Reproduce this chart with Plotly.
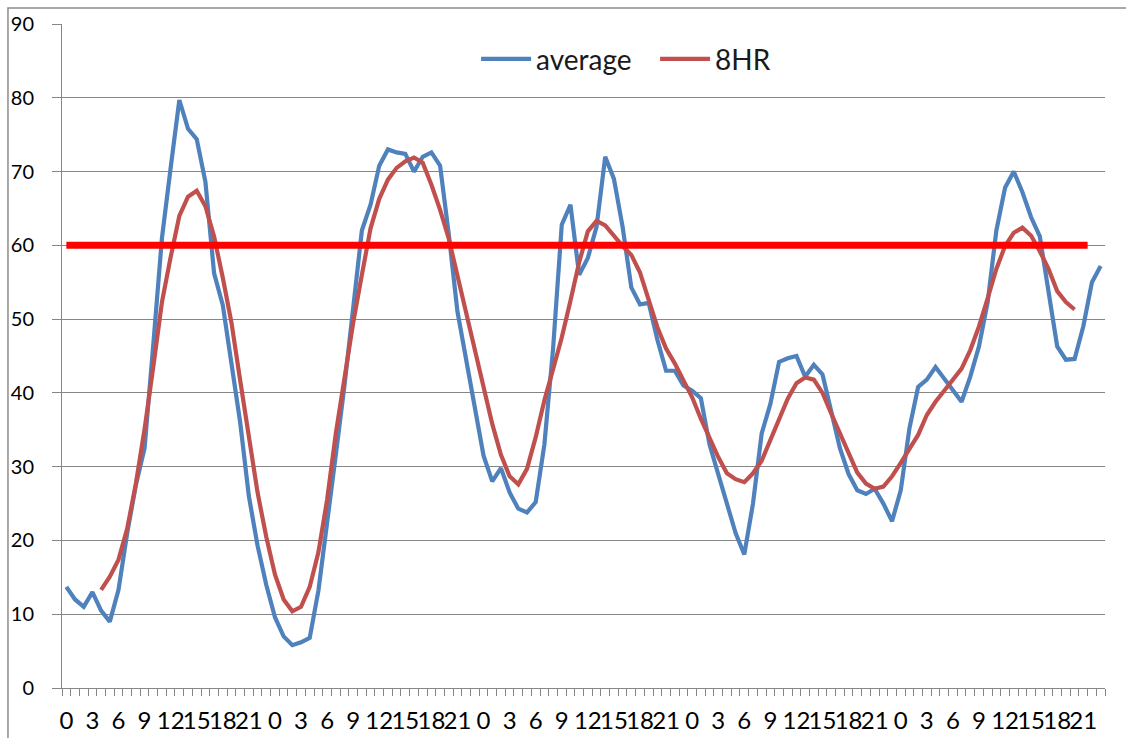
import plotly.graph_objects as go

# Hour-of-day category for each hourly sample (five days)
HOURS = list(range(24)) * 5

# Hourly average concentration
AVERAGE = [
    13.7, 12.0, 11.0, 13.0, 10.5, 9.0, 13.3, 21.0, 27.5, 32.5, 46.5, 61.0,
    70.5, 79.7, 75.8, 74.4, 68.6, 56.2, 51.9, 44.4, 36.0, 26.0, 19.3, 14.0,
    9.6, 7.0, 5.8, 6.2, 6.8, 13.2, 22.0, 31.6, 41.0, 51.0, 62.0, 65.5,
    70.8, 73.0, 72.6, 72.4, 70.0, 72.0, 72.6, 70.8, 61.5, 51.0, 44.5, 37.5,
    31.5, 28.0, 29.8, 26.5, 24.3, 23.8, 25.2, 33.0, 46.0, 62.8, 65.5, 56.0,
    58.3, 62.5, 72.0, 69.0, 62.5, 54.3, 52.0, 52.2, 47.2, 43.0, 43.0, 41.0,
    40.3, 39.3, 33.0, 29.0, 25.0, 21.0, 18.1, 25.0, 34.5, 38.5, 44.2, 44.7,
    45.0, 42.2, 43.8, 42.5, 37.5, 32.5, 29.0, 26.8, 26.3, 27.0, 25.0, 22.6,
    26.8, 35.2, 40.8, 41.8, 43.5, 41.9, 40.5, 38.8, 42.2, 46.3, 52.3, 62.0,
    67.8, 70.0, 67.2, 63.8, 61.2, 53.5, 46.3, 44.5, 44.6, 49.0, 55.0, 57.2,
]

# 8-hour running average (undefined at the start and end of the record)
EIGHT_HR = [
    None, None, None, None, 13.3, 15.1, 17.4, 21.6, 27.7, 35.1, 43.5, 52.3,
    58.4, 64.0, 66.6, 67.4, 65.3, 61.2, 55.6, 49.5, 41.7, 34.5, 26.5, 20.5,
    15.4, 12.0, 10.4, 11.0, 13.7, 18.4, 25.5, 34.5, 42.0, 49.5, 56.0, 62.3,
    66.3, 68.9, 70.5, 71.4, 71.9, 71.2, 68.2, 64.8, 60.9, 56.0, 51.0, 46.0,
    40.8, 35.8, 31.6, 28.7, 27.6, 29.7, 34.0, 39.0, 43.2, 47.5, 52.5, 57.7,
    61.9, 63.3, 62.7, 61.2, 59.9, 58.7, 56.3, 52.6, 48.9, 46.0, 44.0, 41.7,
    39.4, 36.5, 33.8, 31.3, 29.1, 28.3, 27.9, 29.1, 30.8, 33.5, 36.5, 39.2,
    41.3, 42.1, 41.8, 40.0, 37.2, 34.5, 31.9, 29.2, 27.7, 27.0, 27.3, 28.7,
    30.5, 32.4, 34.3, 37.0, 38.8, 40.3, 41.7, 43.3, 45.8, 49.0, 52.8, 56.8,
    59.9, 61.7, 62.4, 61.3, 59.2, 56.8, 53.8, 52.3, 51.3, None, None, None,
]

# Standard level drawn across the chart
STANDARD = 60

x = list(range(len(HOURS)))
label_pos = [i for i, h in enumerate(HOURS) if h % 3 == 0]
label_txt = [str(HOURS[i]) for i in label_pos]

GRID = "#868686"
FONT = "Lato"

fig = go.Figure()
fig.add_trace(go.Scatter(
    x=x, y=AVERAGE, name="average", mode="lines",
    line=dict(color="#4F81BD", width=4.2),
))
fig.add_trace(go.Scatter(
    x=x, y=EIGHT_HR, name="8HR", mode="lines",
    line=dict(color="#C0504D", width=4.2),
))

# Thick red standard line
fig.add_shape(
    type="line", xref="x", yref="y",
    x0=0.0, x1=117.5, y0=STANDARD, y1=STANDARD,
    line=dict(color="#FF0000", width=7),
)

# Chart-area frame (top and left edges visible)
fig.add_shape(
    type="rect", xref="paper", yref="paper",
    x0=-0.0518, x1=1.04, y0=-0.12, y1=1.0241,
    line=dict(color="#8C8C8C", width=1.5), layer="below",
)

fig.update_layout(
    width=1126, height=738,
    margin=dict(l=62, r=21, t=24, b=50),
    paper_bgcolor="white", plot_bgcolor="white",
    font=dict(family=FONT, color="#000000"),
    showlegend=True,
    legend=dict(
        orientation="h", x=0.397, y=0.947, xanchor="left", yanchor="middle",
        font=dict(size=28, family=FONT, color="#1a1a1a"),
        itemwidth=50, entrywidth=114, bgcolor="rgba(0,0,0,0)",
        traceorder="normal",
    ),
)

fig.update_xaxes(
    range=[-0.5, len(HOURS) - 0.5], automargin=False,
    tickmode="array", tickvals=label_pos, ticktext=label_txt,
    ticks="", tickangle=0, showgrid=False, zeroline=False,
    showline=True, linecolor=GRID, linewidth=1,
    tickfont=dict(size=24, family=FONT, color="#000000"),
    ticklabelstandoff=11,
    minor=dict(
        tickmode="array", tickvals=[i - 0.5 for i in range(len(HOURS) + 1)],
        ticks="outside", ticklen=7, tickcolor=GRID, tickwidth=1, showgrid=False,
    ),
)
fig.update_yaxes(
    range=[0, 90], dtick=10, tick0=0, automargin=False,
    showgrid=True, gridcolor=GRID, gridwidth=1,
    zeroline=False, showline=True, linecolor=GRID, linewidth=1,
    ticks="outside", ticklen=9, tickcolor=GRID,
    tickfont=dict(size=20, family=FONT, color="#000000"),
    ticklabelstandoff=14,
)

fig.write_html("out.html")
